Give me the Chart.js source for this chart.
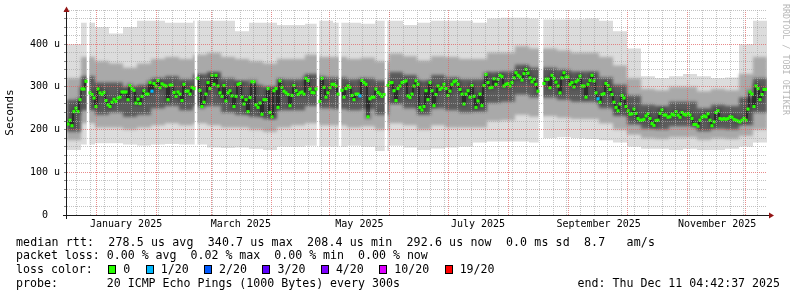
<!DOCTYPE html>
<html>
<head>
<meta charset="utf-8">
<script src="https://cdn.jsdelivr.net/npm/chart.js@4.4.1/dist/chart.umd.min.js"></script>
<style>
  html, body { margin: 0; padding: 0; background: #fff; }
  #wrap { position: relative; width: 797px; height: 297px; overflow: hidden; background: #fff; }
  #wrap canvas { position: absolute; left: 0; top: 0; }
  .row { position: absolute; left: 16px; font: 11.6px "DejaVu Sans Mono", monospace; line-height: 14px; white-space: pre; color: #000; }
  .box { display: inline-block; box-sizing: border-box; width: 8px; height: 9px; border: 1px solid #000; vertical-align: -1px; margin-left: 1.5px; margin-right: 7px; }
  .end { position: absolute; right: 17px; top: 276px; font: 11.6px "DejaVu Sans Mono", monospace; line-height: 14px; white-space: pre; color: #000; }
  .credit { position: absolute; left: 781px; top: 4px; writing-mode: vertical-rl; font: 8.4px "DejaVu Sans Mono", monospace; color: #b8b8b8; white-space: pre; }
</style>
</head>
<body>
<div id="wrap">
  <canvas id="chart" width="797" height="297"></canvas>
  <div class="credit">RRDTOOL / TOBI OETIKER</div>
  <div class="row" id="rtt" style="top:234.5px; letter-spacing:0.12px"></div>
  <div class="row" id="loss" style="top:248.3px"></div>
  <div class="row" id="colors" style="top:262.2px"></div>
  <div class="row" id="probe" style="top:276px"></div>
  <div class="end" id="end"></div>
</div>
<script>
// median rtt per day (us), null = no data
const medianRtt = [
  213, 222, 209, 242, 250, 242, 270, 295, 295, 313, null,
  286, 282, 274, 254, 295, 286, 282, 287, 268, 258, 254, 264, 271, 266, 274, 276, 288, 288, 288, 270,
  303, 296, 292, 262, 271, 261, 278, 291, 283, 283, 310, 290, 308, 302, 315, 298, 307, 304, 302, 270,
  304, 304, 287, 278, 288, 283, 268, 306, 290, 290, 283, 299, 296, null,
  320, 292, 254, 264, 283, 310, 296, 327, 306, 327, 302, 286, 278, 303, 267, 286, 291, 279, 254, 278, 306,
  308, 276, 260, 270, 242, 275, 312, 312, 258, 252,
  262, 236, 270, 270, 296, 240, 230, 291, 296, 252,
  314, 299, 290, 286, 282, 256, 280, 303, 291, 282,
  286, 288, 283, 320, 315, 295, 287, 286, 295, null,
  266, 320, 299, 276, 286, 298, 306, 306, 302, 283, null,
  292, 276, 296, 302, 299, 280, 270, 283, 283, 279,
  315, 310, 306, 230, 272, 276, 276, 295, 287, 283,
  278, 282, null,
  303, 310, 310, 291, 268, 296, 302, 310, 312, 314,
  279, 275, 283, 302,
  314, 306, 252, 246, 254, 291, 270, 310, 291, 256,
  282, 302, 294, 298, 306, 296, 280, 290, 306, 312,
  314, 306, 294, 283, 260, 283, 291, 276, 303, 278,
  252, 267, 283, 256, 303, 329, 310, 298, 299, 319,
  306, 318, 327, 324, 302, 306, 308, 302, 310, 321,
  333, 327, 323, 316, 331, 341, 332, 321, 312, 318,
  306, 290, null, null,
  308, 318, 318, 298, 327, 320, 311, 302, 286, 321,
  333, 323, 323, 306, 310, 300, 312, 316, 325, 302,
  302,
  276, 306, 315, 327, 314, 286, 272, 264, 282, 284,
  308, 303, 294, 282, 264, 252, 244, 260, 280, 274,
  254, 244, 236, 237, 248, 238, 226, 222, 222, 224,
  232, 237, 226, 214, 210, 221, 222, 238, 246, 234,
  234, 229, 230, 236, 234, 242, 234, 229, 240, 236,
  234, 238, 234, 226, 212, 212, 208, 222, 229, 232,
  230, 237, 222, 209, 218, 240, 244, 226, 224, 226,
  224, 226, 230, 229, 224, 222, 220, 218, 222, 226,
  222, 248, 288, 283, 254, 302, 296, 270, 282, 294,
  294
];
// days on which 1 of 20 pings was lost
const lossOneDays = [42, 146, 265];

// smoke, one value per week-wide column (us)
const smokeMax = [400, 450, 440, 425, 440, 455, 455, 450, 450, 455, 455, 455, 430, 450, 450, 445, 445, 448, 455, 450,
                  450, 448, 455, 455, 445, 450, 455, 455, 455, 450, 460, 462, 462, 460, 458, 458, 458, 460, 455, 430,
                  390, 325, 320, 325, 330, 325, 320, 322, 400, 455];
const smokeHi  = [320, 370, 360, 355, 345, 355, 365, 370, 365, 375, 380, 370, 365, 360, 355, 365, 365, 375, 370, 370,
                  365, 368, 360, 378, 372, 362, 372, 370, 365, 365, 380, 380, 395, 390, 390, 385, 380, 380, 370, 350,
                  320, 295, 292, 300, 300, 290, 295, 292, 330, 370];
const coreHi   = [270, 325, 310, 310, 300, 305, 320, 325, 318, 330, 335, 320, 315, 305, 300, 318, 318, 330, 322, 322,
                  318, 320, 315, 335, 328, 315, 328, 322, 318, 318, 335, 336, 352, 345, 345, 340, 336, 336, 322, 305,
                  280, 258, 255, 265, 265, 250, 258, 255, 275, 320];
const coreLo   = [195, 245, 235, 240, 230, 235, 250, 255, 245, 255, 255, 240, 235, 230, 225, 245, 245, 255, 250, 248,
                  245, 248, 235, 260, 250, 235, 250, 245, 240, 242, 262, 265, 282, 275, 275, 270, 265, 265, 250, 232,
                  212, 202, 200, 208, 208, 196, 202, 200, 210, 240];
const smokeLo  = [175, 215, 205, 205, 200, 205, 210, 215, 210, 215, 210, 205, 205, 200, 195, 205, 210, 215, 210, 210,
                  205, 208, 200, 215, 210, 200, 210, 205, 205, 205, 220, 222, 235, 230, 232, 228, 225, 225, 215, 200,
                  188, 180, 178, 182, 182, 176, 180, 178, 185, 200];
const smokeMin = [152, 165, 168, 168, 165, 163, 165, 166, 165, 165, 158, 157, 158, 155, 152, 160, 160, 162, 160, 160,
                  162, 160, 150, 162, 158, 152, 156, 158, 160, 170, 172, 172, 172, 170, 180, 182, 180, 178, 175, 170,
                  160, 155, 155, 152, 155, 152, 152, 155, 160, 170];

const yLabelValues = [0, 100, 200, 300, 400];
const monthLabels = ['January 2025', 'March 2025', 'May 2025', 'July 2025', 'September 2025', 'November 2025'];
const monthLabelIndex = [0, 2, 4, 6, 8, 10];
const lossColors = [['0', '#26ff00'], ['1/20', '#00b8ff'], ['2/20', '#0059ff'], ['3/20', '#5e00ff'],
                    ['4/20', '#7e00ff'], ['10/20', '#dd00ff'], ['19/20', '#ff0000']];

const rttStats = ['278.5 us avg', '340.7 us max', '208.4 us min', '292.6 us now', '0.0 ms sd', '8.7   am/s'];
const lossStats = ['0.00 % avg', '0.02 % max', '0.00 % min', '0.00 % now'];
const probeText = '20 ICMP Echo Pings (1000 Bytes) every 300s';
const endText = 'Thu Dec 11 04:42:37 2025';

const START = new Date(2024, 11, 16, 22, 0, 0);
const SPAN_DAYS = 360;
const Y_MAX = 480;
const DAY = 86400000;

const MINOR = 'rgba(170, 170, 170, 0.7)';
const MAJOR = 'rgba(225, 100, 100, 0.75)';

function dayOf(d) { return (d - START) / DAY; }
function medianDay(i) { return (i + 0.5) * SPAN_DAYS / medianRtt.length; }

function bandPoints(arr) {
  const w = SPAN_DAYS / arr.length;
  const pts = arr.map(function(v, c) { return { x: c * w, y: v }; });
  pts.push({ x: SPAN_DAYS, y: arr[arr.length - 1] });
  return pts;
}

function edge(label, arr, fill, color) {
  return {
    type: 'line', label: label, data: bandPoints(arr), stepped: 'before',
    borderWidth: 0, borderColor: 'transparent', pointRadius: 0,
    fill: fill, backgroundColor: color
  };
}

const medianPoints = medianRtt.map(function(v, i) { return { x: medianDay(i), y: v }; });
const gapBars = [];
medianRtt.forEach(function(v, i) {
  if (v === null) gapBars.push({ x: medianDay(i), y: [0, Y_MAX] });
});

// x ticks: sundays (minor), month starts (major), labels mid month
function buildXTicks() {
  const ticks = [];
  const d = new Date(START.getFullYear(), START.getMonth(), START.getDate() + 1);
  while (d.getDay() !== 0) d.setDate(d.getDate() + 1);
  while (dayOf(d) < SPAN_DAYS) {
    ticks.push({ value: dayOf(d), kind: 'week' });
    d.setDate(d.getDate() + 7);
  }
  for (let m = 0; m < 12; m++) {
    ticks.push({ value: dayOf(new Date(2025, m, 1)), kind: 'month' });
  }
  monthLabelIndex.forEach(function(m, k) {
    ticks.push({ value: dayOf(new Date(2025, m, 1)) + 15.3, kind: 'label', text: monthLabels[k] });
  });
  return ticks.sort(function(a, b) { return a.value - b.value; });
}

// soften the inner smoke layers (drawn between the outer band and the median)
const softSmoke = {
  id: 'softSmoke',
  afterDatasetDraw(chart, args) {
    if (args.index === 8) chart.ctx.filter = 'blur(1.6px)';
    if (args.index === 2) chart.ctx.filter = 'none';
  }
};

const axisArrows = {
  id: 'axisArrows',
  afterDraw(chart) {
    const ctx = chart.ctx;
    const a = chart.chartArea;
    ctx.save();
    ctx.filter = 'none';
    ctx.strokeStyle = '#1a1a1a';
    ctx.lineWidth = 1;
    ctx.beginPath();
    ctx.moveTo(a.left - 4, a.bottom + 0.5);
    ctx.lineTo(a.right + 3, a.bottom + 0.5);
    ctx.moveTo(a.left - 0.5, a.bottom + 4);
    ctx.lineTo(a.left - 0.5, a.top);
    ctx.stroke();
    ctx.fillStyle = '#931515';
    ctx.beginPath();
    ctx.moveTo(a.right + 7, a.bottom + 0.5);
    ctx.lineTo(a.right + 2, a.bottom - 2.5);
    ctx.lineTo(a.right + 2, a.bottom + 3.5);
    ctx.closePath();
    ctx.fill();
    ctx.beginPath();
    ctx.moveTo(a.left - 0.5, a.top - 3.5);
    ctx.lineTo(a.left - 3.5, a.top + 2);
    ctx.lineTo(a.left + 2.5, a.top + 2);
    ctx.closePath();
    ctx.fill();
    ctx.restore();
  }
};

Chart.defaults.font.family = '"DejaVu Sans Mono", monospace';
Chart.defaults.color = '#000';

new Chart(document.getElementById('chart'), {
  type: 'line',
  data: {
    datasets: [
      {
        label: 'median rtt', data: medianPoints, stepped: 'middle', spanGaps: false,
        borderColor: '#111', borderWidth: 1,
        pointStyle: 'rect', pointRadius: 2.2, pointBorderWidth: 0,
        pointBackgroundColor: function(c) {
          return lossOneDays.indexOf(c.dataIndex) >= 0 ? lossColors[1][1] : lossColors[0][1];
        }
      },
      { type: 'bar', label: 'no data', data: gapBars, backgroundColor: '#fff', barThickness: 2, grouped: false },
      {
        label: 'median halo', data: medianPoints, stepped: 'middle', spanGaps: false,
        borderColor: 'rgba(30, 30, 30, 0.3)', borderWidth: 5, pointRadius: 0, fill: false
      },
      edge('core lo', coreLo, false, 'transparent'),
      edge('core hi', coreHi, '-1', 'rgba(55, 55, 55, 0.68)'),
      edge('smoke lo', smokeLo, false, 'transparent'),
      edge('smoke hi', smokeHi, '-1', '#a9a9a9'),
      edge('smoke min', smokeMin, false, 'transparent'),
      edge('smoke max', smokeMax, '-1', '#dcdcdc')
    ]
  },
  options: {
    responsive: false,
    animation: false,
    events: [],
    layout: { padding: { top: 10, right: 30, left: 0, bottom: 0 } },
    plugins: { legend: { display: false }, tooltip: { enabled: false } },
    scales: {
      x: {
        type: 'linear', min: 0, max: SPAN_DAYS, offset: false,
        afterBuildTicks: function(scale) { scale.ticks = buildXTicks(); },
        afterFit: function(scale) { scale.height = 82; },
        ticks: {
          autoSkip: false, maxRotation: 0, minRotation: 0, padding: 3,
          font: { size: 10 },
          callback: function(value, index, ticks) { return ticks[index].text || ''; }
        },
        grid: {
          z: 1, offset: false, drawTicks: false, lineWidth: 1,
          color: function(c) {
            if (!c.tick) return 'transparent';
            if (c.tick.kind === 'month') return MAJOR;
            if (c.tick.kind === 'week') return MINOR;
            return 'transparent';
          }
        },
        border: { display: false, dash: [1, 1] }
      },
      y: {
        min: 0, max: Y_MAX,
        afterFit: function(scale) { scale.width = 67; },
        ticks: {
          stepSize: 20, autoSkip: false, padding: 4, font: { size: 10 },
          callback: function(v) {
            if (yLabelValues.indexOf(v) < 0) return '';
            return v === 0 ? '0  ' : v + ' u';
          }
        },
        title: { display: true, text: 'Seconds', font: { size: 11 }, color: '#000', padding: { top: 4, bottom: 0 } },
        grid: {
          z: 1, drawTicks: true, tickLength: 3, tickColor: '#888', lineWidth: 1,
          color: function(c) {
            if (!c.tick || c.tick.value === 0) return 'transparent';
            return c.tick.value % 100 === 0 ? MAJOR : MINOR;
          }
        },
        border: { display: false, dash: [1, 1] }
      }
    }
  },
  plugins: [softSmoke, axisArrows]
});

// legend text
document.getElementById('rtt').textContent = 'median rtt:  ' + rttStats.join('  ');
document.getElementById('loss').textContent = 'packet loss: ' + lossStats.join('  ');
document.getElementById('probe').textContent = 'probe:       ' + probeText;
document.getElementById('end').textContent = 'end: ' + endText;
const colorsRow = document.getElementById('colors');
colorsRow.appendChild(document.createTextNode('loss color:  '));
lossColors.forEach(function(lc, i) {
  const box = document.createElement('span');
  box.className = 'box';
  box.style.background = lc[1];
  colorsRow.appendChild(box);
  colorsRow.appendChild(document.createTextNode(lc[0] + (i < lossColors.length - 1 ? '  ' : '')));
});
</script>
</body>
</html>
